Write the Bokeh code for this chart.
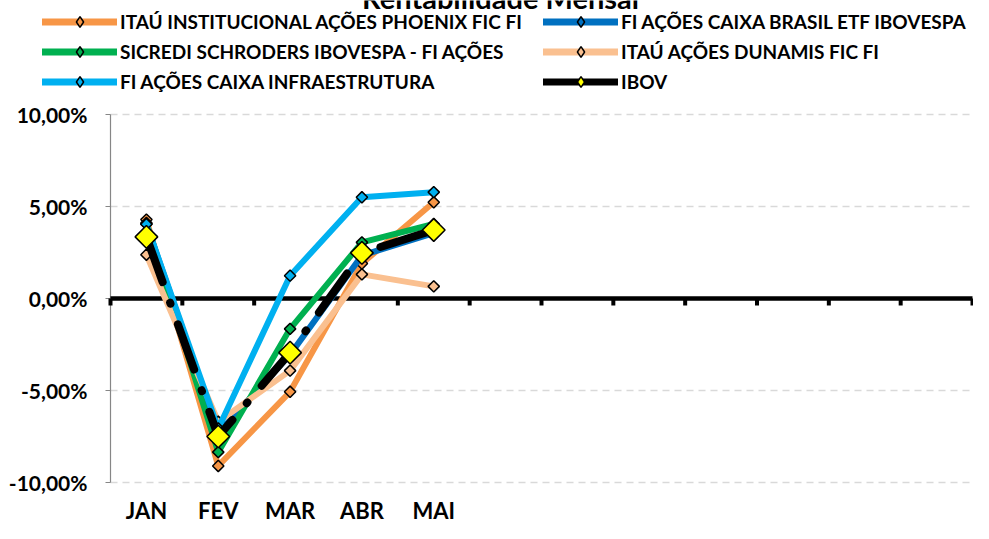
import numpy as np
from bokeh.plotting import figure
from bokeh.models import Range1d, Legend, LegendItem, Label
from bokeh.core.properties import value
from bokeh.embed import file_html
from bokeh.resources import INLINE

# ---------------- data ----------------
months = ["JAN", "FEV", "MAR", "ABR", "MAI", "", "", "", "", "", "", ""]
y_ticks = [-10, -5, 0, 5, 10]
y_tick_labels = ["-10,00%", "-5,00%", "0,00%", "5,00%", "10,00%"]

names = [
    "ITAÚ INSTITUCIONAL AÇÕES PHOENIX FIC FI",
    "FI AÇÕES CAIXA BRASIL ETF IBOVESPA",
    "SICREDI SCHRODERS IBOVESPA - FI AÇÕES",
    "ITAÚ AÇÕES DUNAMIS FIC FI",
    "FI AÇÕES CAIXA INFRAESTRUTURA",
    "IBOV",
]
phoenix = [4.29, -9.10, -5.07, 1.90, 5.23]
caixa_etf = [4.05, -7.30, -3.05, 2.34, 3.55]
sicredi = [4.10, -8.35, -1.65, 3.05, 4.05]
dunamis = [2.38, -6.70, -3.92, 1.31, 0.66]
infra = [4.04, -7.06, 1.24, 5.50, 5.78]
ibov = [3.35, -7.50, -2.94, 2.48, 3.72]

colors = ["#F79646", "#0070C0", "#00B050", "#FAC090", "#00B0F0", "black"]
series = [phoenix, caixa_etf, sicredi, dunamis, infra, ibov]

# ---------------- layout (pixels) ----------------
FONT = "Lato"
W, H = 973, 523
PL, PR, PT, PB = 110, 972, 114, 482   # plot area edges on the canvas
ymin, ymax = y_ticks[0], y_ticks[-1]
ncat = len(months)
sx = (PR - PL) / ncat
sy = (PB - PT) / (ymax - ymin)

p = figure(width=W, height=H,
           x_range=Range1d(-PL / sx, ncat + (W - PR) / sx),
           y_range=Range1d(ymin - (H - PB) / sy, ymax + PT / sy),
           output_backend="svg", toolbar_location=None,
           min_border=0)
p.outline_line_color = None
p.axis.visible = False
p.grid.visible = False
p.background_fill_color = "white"
p.border_fill_color = "white"

# horizontal dashed gridlines
n = len(y_ticks)
p.segment(x0=[0] * n, y0=y_ticks, x1=[ncat] * n, y1=y_ticks,
          line_color="#D9D9D9", line_width=1.5, line_dash="7 5")

# value axis (left)
p.segment(x0=[0], y0=[ymin], x1=[0], y1=[ymax], line_color="#868686", line_width=1.2)
p.ray(x=[0] * n, y=y_ticks, length=5, length_units="screen", angle=np.pi,
      line_color="#868686", line_width=1.2)
p.text(x=[0] * n, y=y_ticks, text=y_tick_labels, x_offset=-23,
       text_align="right", text_baseline="middle", text_font=value(FONT),
       text_font_style="bold", text_font_size="21px", text_color="black")

# category axis crossing at zero
bounds = list(range(ncat + 1))
p.segment(x0=[0], y0=[0], x1=[ncat], y1=[0], line_color="black", line_width=4.5)
p.ray(x=bounds, y=[0] * len(bounds), length=7, length_units="screen",
      angle=-np.pi / 2, line_color="black", line_width=4)

# category labels at the bottom
x_ticks = [i + 0.5 for i in range(ncat)]
p.text(x=x_ticks, y=[ymin] * ncat, text=months, y_offset=14,
       text_align="center", text_baseline="top", text_font=value(FONT),
       text_font_style="bold", text_font_size="22px", text_color="black")

# series
xs = [i + 0.5 for i in range(len(phoenix))]
items = []
for name, col, ys in zip(names, colors, series):
    is_ibov = name == "IBOV"
    if is_ibov:
        p.line(xs, ys, line_color="black", line_width=8, line_cap="round",
               line_join="round", line_dash="48 22 1 22")
        p.scatter(xs, ys, marker="square", angle=np.pi / 4, size=16,
                  fill_color="#FFFF00", line_color="black", line_width=1.5)
    else:
        p.line(xs, ys, line_color=col, line_width=6, line_join="round",
               line_cap="round")
        p.scatter(xs, ys, marker="square", angle=np.pi / 4, size=8,
                  fill_color=col, line_color="black", line_width=1.5)
    # hidden twins used only for the legend swatches (solid line + diamond)
    ll = p.line(xs, ys, line_color=col, line_width=7, line_cap="round", visible=False)
    lm = p.scatter(xs, ys, marker="diamond", size=13,
                   fill_color="#FFFF00" if is_ibov else col,
                   line_color="black", line_width=1.5, visible=False)
    items.append(LegendItem(label=name, renderers=[ll, lm]))

legend = Legend(items=items, location=(42, H - 94.5), orientation="horizontal",
                ncols=2, glyph_width=75, glyph_height=27, label_height=27,
                label_width=420, label_standoff=3, spacing=3, padding=0,
                margin=0, border_line_alpha=0, background_fill_alpha=0,
                click_policy="none",
                label_text_font=FONT, label_text_font_style="bold",
                label_text_font_size="19px", label_text_color="black")
p.add_layout(legend)

p.add_layout(Label(x=500, y=H + 3, x_units="screen", y_units="screen",
                   text="Rentabilidade Mensal", text_align="center",
                   text_baseline="alphabetic", text_font=FONT,
                   text_font_style="bold", text_font_size="29px",
                   text_color="black"))

open("out.html", "w").write(file_html(p, INLINE))
